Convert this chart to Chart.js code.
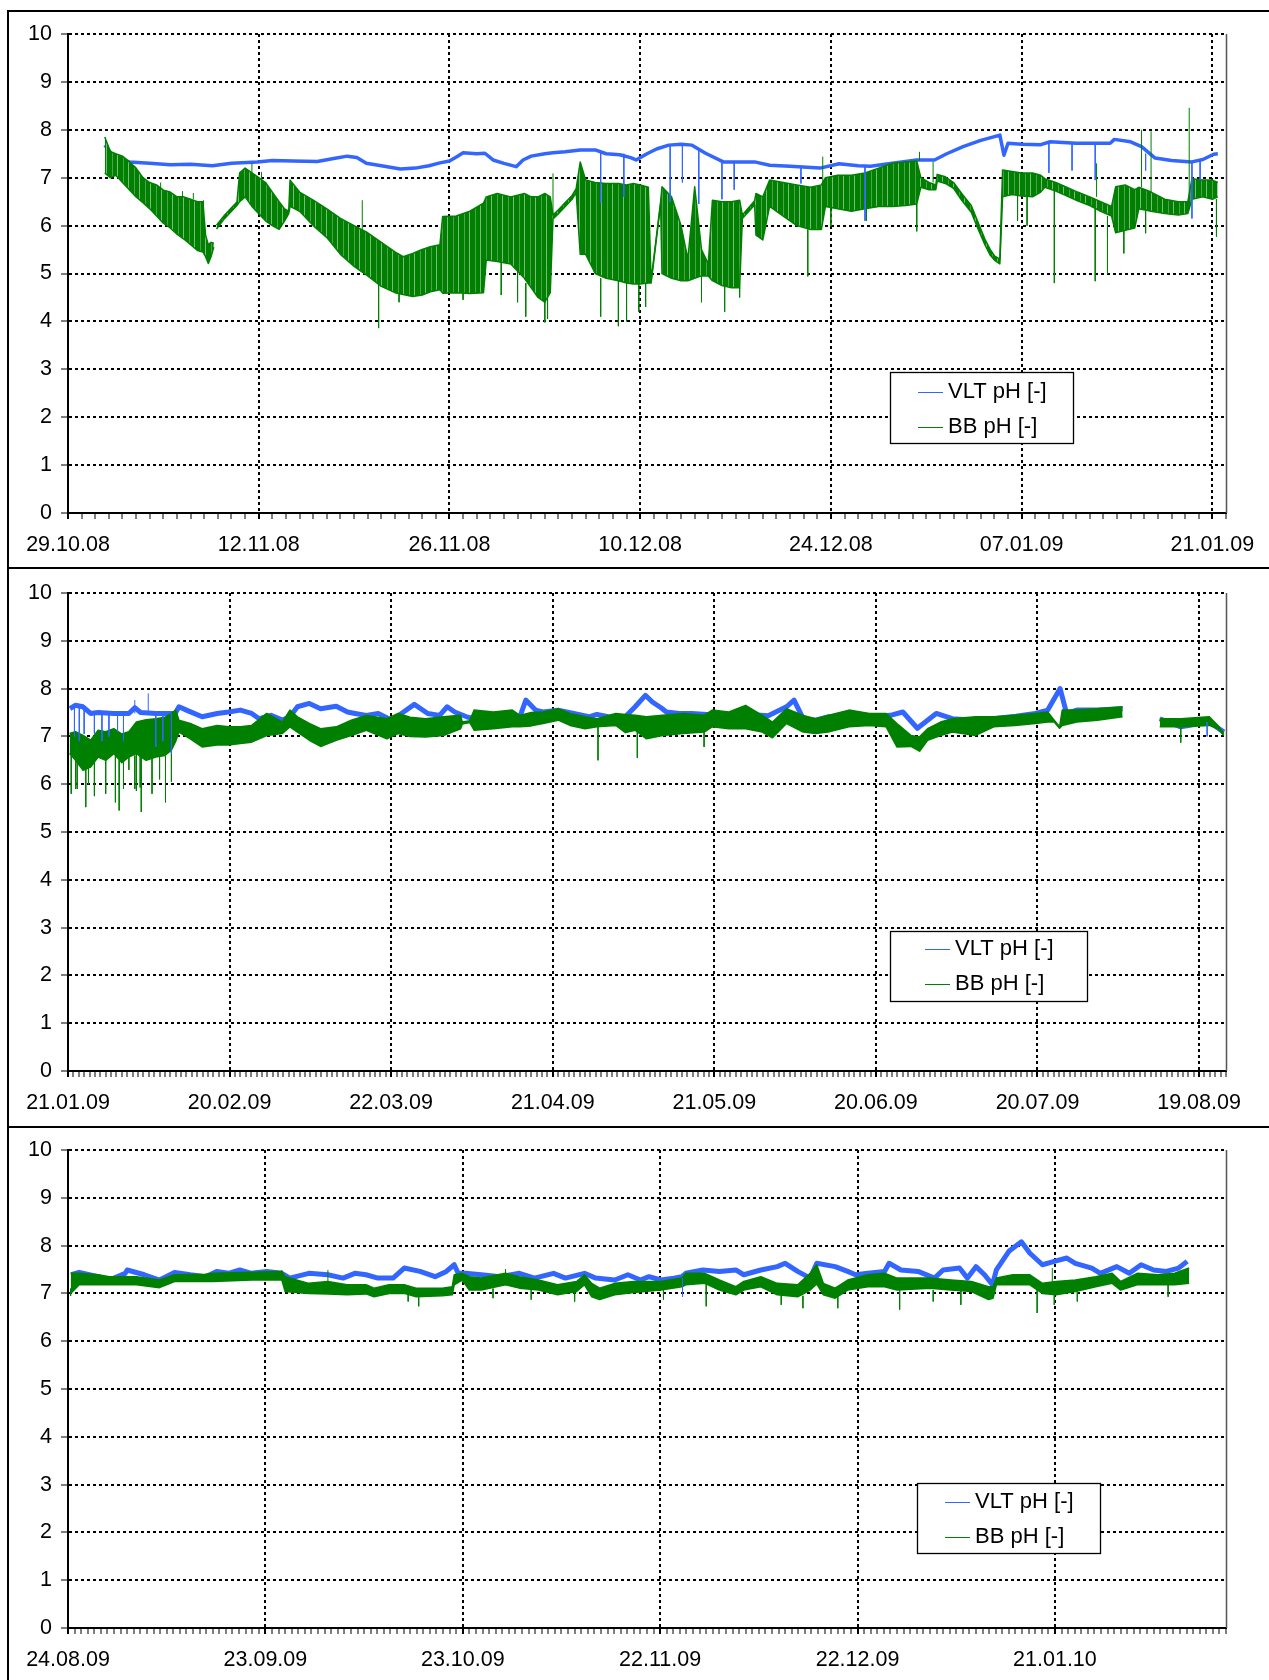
<!DOCTYPE html>
<html>
<head>
<meta charset="utf-8">
<title>pH VLT / BB</title>
<script src="https://cdn.jsdelivr.net/npm/chart.js@4.4.1/dist/chart.umd.min.js"></script>
<style>
  html, body { margin: 0; padding: 0; background: #fff; }
  #page { position: relative; width: 1269px; height: 1680px; overflow: hidden; }
  canvas { position: absolute; left: 0; }
  .rule { position: absolute; background: #000; }
</style>
</head>
<body>
<div id="page">
  <canvas id="c1" width="1269" height="567" style="top:0"></canvas>
  <canvas id="c2" width="1269" height="557" style="top:569px"></canvas>
  <canvas id="c3" width="1269" height="552" style="top:1128px"></canvas>
  <div class="rule" style="left:7px;top:10px;width:2px;height:1670px"></div>
  <div class="rule" style="left:7px;top:10px;width:1262px;height:2px"></div>
  <div class="rule" style="left:7px;top:567px;width:1262px;height:2px"></div>
  <div class="rule" style="left:7px;top:1126px;width:1262px;height:2px"></div>
</div>
<script>
const seriesNames = ['VLT pH [-]', 'BB pH [-]'];
const vltColor = '#3366ff';
const bbColor = '#008000';

// x values are days since the first tick of each panel
// BB rows: [day, upper, lower]; spikes: [day, from, to]

// 29.10.08 - 22.01.09
const p1Ticks = ['29.10.08', '12.11.08', '26.11.08', '10.12.08', '24.12.08', '07.01.09', '21.01.09'];
const p1Vlt = [
  [2.7,7.68],[3.2,7.5],[4.0,7.38],[4.5,7.33],[6.0,7.3],[7.5,7.27],[9.0,7.28],[10.6,7.25],[12.0,7.3],[13.9,7.33],
  [15.0,7.36],[16.5,7.35],[18.3,7.34],[19.5,7.4],[20.5,7.45],[21.2,7.42],[21.9,7.3],[23.0,7.25],[24.4,7.18],[25.5,7.2],
  [26.5,7.25],[27.3,7.31],[28.0,7.35],[28.6,7.45],[29.0,7.52],[30.0,7.5],[30.6,7.51],[31.2,7.37],[32.0,7.3],[32.9,7.23],
  [33.4,7.37],[34.0,7.45],[35.0,7.5],[35.6,7.52],[36.5,7.54],[37.6,7.58],[38.7,7.58],[39.5,7.5],[40.5,7.48],[41.3,7.42],
  [41.7,7.37],[42.5,7.5],[43.2,7.6],[44.1,7.68],[45.0,7.7],[45.8,7.68],[46.8,7.51],[48.1,7.33],[49.0,7.33],[50.4,7.33],
  [51.5,7.26],[53.0,7.24],[55.2,7.2],[56.6,7.29],[58.0,7.25],[58.9,7.24],[60.5,7.3],[62.3,7.37],[63.6,7.37],[64.5,7.5],
  [65.7,7.65],[67.0,7.78],[68.4,7.89],[68.7,7.47],[69.0,7.72],[70.0,7.7],[71.4,7.69],[72.1,7.75],[74.0,7.72],[76.5,7.72],
  [76.8,7.8],[78.0,7.75],[78.8,7.65],[79.8,7.41],[81.0,7.36],[82.5,7.33],[83.3,7.38],[84.1,7.49],[84.4,7.5]
];
const p1VltSpikes = [
  [39.1,7.55,6.47],[40.8,7.5,6.6],[44.2,7.68,6.5],[45.1,7.7,6.9],[46.3,7.6,6.45],[48.0,7.35,6.55],[48.9,7.33,6.75],
  [53.8,7.24,6.88],[58.5,7.25,6.1],[72.0,7.72,7.1],[73.7,7.72,7.15],[75.4,7.72,6.95],[79.1,7.5,7.15],[82.5,7.33,6.15],
  [83.1,7.36,6.95]
];
const p1Bb = [
  [2.7,7.85,7.1],[3.1,7.55,7.0],[3.5,7.5,7.05],[4.0,7.45,6.9],[4.5,7.33,6.75],[5.0,7.2,6.6],[5.5,7.0,6.48],[6.0,6.9,6.35],
  [6.5,6.85,6.2],[7.0,6.74,6.05],[7.5,6.7,5.95],[8.0,6.6,5.82],[8.5,6.6,5.72],[9.0,6.55,5.6],[9.5,6.5,5.48],[9.9,6.5,5.45],
  [10.1,5.8,5.35],[10.3,5.6,5.21],[10.5,5.65,5.35],[10.7,5.63,5.55],[10.8,null,null],
  [10.9,6.01,5.93],[11.5,6.22,6.15],[12.0,6.37,6.3],[12.4,6.49,6.42],
  [12.6,7.1,6.5],[13.0,7.2,6.6],[13.5,7.1,6.4],[14.0,7.0,6.25],[14.5,6.9,6.1],[15.0,6.7,6.0],[15.5,6.5,5.92],[15.9,6.35,6.1],
  [16.2,6.3,6.25],[16.3,6.95,6.4],[17.0,6.7,6.3],[18.0,6.53,6.0],[19.0,6.35,5.75],[20.0,6.15,5.4],[21.0,6.0,5.15],
  [22.0,5.85,4.95],[23.0,5.65,4.73],[24.0,5.45,4.6],[24.6,5.35,4.56],[25.3,5.42,4.52],[26.0,5.5,4.55],[26.6,5.56,4.62],
  [27.3,5.6,4.66],[27.5,6.19,4.59],[28.5,6.2,4.6],[29.5,6.3,4.58],[30.5,6.47,4.6],[30.7,6.6,5.28],[31.5,6.67,5.25],
  [32.5,6.6,5.2],[33.5,6.67,4.9],[34.0,6.6,4.7],[34.5,6.6,4.5],[35.0,6.67,4.4],[35.4,6.6,4.6],
  [35.6,6.22,6.14],[36.0,6.33,6.25],[36.5,6.48,6.4],[37.0,6.63,6.55],[37.3,6.77,6.69],
  [37.6,7.33,5.4],[38.0,6.95,5.4],[38.7,6.9,5.0],[39.5,6.88,4.9],[40.4,6.88,4.85],[41.0,6.85,4.8],[41.5,6.88,4.78],
  [42.0,6.85,4.78],[42.6,6.8,4.8],[42.8,4.85,4.8],[43.5,6.5,6.45],[43.6,6.81,5.0],[44.3,6.6,4.9],[45.0,6.0,4.85],
  [45.5,5.3,4.85],[46.0,6.81,4.9],[46.5,5.5,4.95],[47.0,5.2,4.95],[47.3,6.53,4.85],[48.0,6.5,4.75],[48.7,6.5,4.7],
  [49.3,6.53,4.7],[49.5,6.22,6.15],[50.4,6.52,6.43],[50.5,6.67,5.8],[51.0,6.6,5.7],[51.5,6.95,6.4],[52.5,6.9,6.2],
  [53.5,6.85,6.0],[54.5,6.8,5.92],[55.3,6.85,5.92],[55.6,7.0,6.4],[56.5,7.05,6.35],[57.5,7.05,6.3],[58.5,7.1,6.35],
  [59.5,7.2,6.4],[60.5,7.3,6.4],[61.5,7.33,6.42],[62.3,7.35,6.45],[62.6,7.0,6.8],[63.2,6.9,6.75],[63.7,6.85,6.75],
  [63.8,7.07,6.93],[64.4,7.02,6.88],[65.0,6.9,6.78],[65.6,6.67,6.53],[66.3,6.42,6.28],[66.8,6.07,5.93],[67.3,5.72,5.6],
  [67.7,5.5,5.38],[68.0,5.37,5.28],[68.4,5.3,5.2],[68.6,7.16,6.6],[69.3,7.13,6.65],[70.0,7.1,6.62],[70.8,7.1,6.6],
  [71.4,7.05,6.7],[71.7,6.98,6.8],[72.5,6.9,6.72],[73.3,6.8,6.62],[74.1,6.7,6.52],[75.0,6.6,6.42],[75.8,6.5,6.3],
  [76.6,6.4,6.2],[76.9,6.81,5.85],[77.6,6.85,5.9],[78.3,6.75,5.95],[78.6,6.8,6.35],[79.5,6.7,6.3],[80.5,6.55,6.25],
  [81.5,6.5,6.22],[82.2,6.5,6.25],[82.5,6.98,6.55],[83.3,6.95,6.6],[84.0,6.95,6.55],[84.4,6.9,6.6]
];
const p1BbSpikes = [
  [6.8,6.75,6.9],[8.4,6.6,6.72],[9.2,6.55,6.68],[9.95,6.0,6.53],[13.5,6.8,7.3],[14.2,6.9,7.12],[21.6,5.8,6.53],
  [22.8,4.8,3.86],[24.3,4.58,4.4],[29.0,4.6,4.45],[31.8,5.25,4.55],[33.0,5.2,4.4],[33.6,4.8,4.1],
  [35.0,4.5,3.98],[35.2,4.5,4.05],[35.6,6.2,7.09],[39.1,4.9,4.1],[40.4,4.85,3.9],[41.0,4.8,4.0],[41.9,4.8,4.2],
  [42.4,4.8,4.3],[46.5,4.95,4.4],[48.2,4.75,4.2],[49.3,4.7,4.5],[54.3,5.92,4.94],[55.4,6.85,7.44],[56.0,6.4,5.98],
  [58.6,6.35,6.1],[62.3,6.45,5.88],[62.5,7.35,7.54],[63.5,6.9,7.33],[69.7,6.62,6.1],[70.4,6.62,6.0],[72.4,6.72,4.8],
  [75.4,6.42,4.84],[75.5,6.6,7.3],[76.3,6.2,5.0],[77.5,5.9,5.42],[78.8,6.8,8.0],[79.1,6.3,5.84],[79.5,6.7,7.97],
  [82.3,6.5,8.46],[84.3,6.55,5.77]
];

// 21.01.09 - 24.08.09
const p2Ticks = ['21.01.09', '20.02.09', '22.03.09', '21.04.09', '21.05.09', '20.06.09', '20.07.09', '19.08.09'];
const p2Vlt = [
  [0.36,7.58],[1.36,7.65],[2.78,7.62],[4.2,7.48],[5.6,7.5],[8.5,7.48],[11.3,7.48],[12.4,7.6],[13.5,7.5],[16.3,7.48],
  [19.9,7.48],[20.6,7.62],[22.0,7.55],[24.9,7.41],[27.7,7.48],[29.8,7.51],[32.0,7.55],[34.1,7.48],[35.5,7.37],[37.7,7.44],
  [39.8,7.34],[41.2,7.41],[42.6,7.62],[44.8,7.69],[46.9,7.58],[49.8,7.63],[51.9,7.51],[53.3,7.48],[55.4,7.44],[57.6,7.48],
  [60.1,7.34],[61.9,7.48],[64.3,7.67],[66.8,7.48],[69.0,7.44],[70.4,7.62],[71.8,7.51],[74.0,7.41],[75.4,7.37],[79.0,7.34],
  [81.8,7.3],[83.9,7.41],[85.0,7.76],[86.8,7.55],[88.2,7.51],[91.0,7.55],[93.9,7.48],[96.7,7.41],[98.2,7.46],[100.3,7.41],
  [103.1,7.37],[105.3,7.62],[107.2,7.86],[108.5,7.72],[110.1,7.6],[111.1,7.51],[113.5,7.48],[115.8,7.48],[120.0,7.45],
  [125.0,7.47],[130.0,7.43],[133.4,7.62],[134.8,7.76],[136.5,7.37],[138.8,7.34],[141.1,7.41],[145.0,7.4],[148.8,7.41],
  [152.7,7.44],[155.0,7.51],[157.7,7.17],[161.2,7.48],[164.2,7.37],[168.1,7.34],[171.9,7.37],[176.0,7.42],[179.6,7.48],
  [181.9,7.55],[184.2,8.0],[185.4,7.48],[187.3,7.55],[191.0,7.55],[195.8,7.58],[196.0,null],[202.7,7.37],[206.6,7.2],
  [211.9,7.3],[214.6,7.09]
];
const p2VltSpikes = [
  [1.2,7.62,7.0],[2.1,7.62,6.9],[3.0,7.6,7.05],[4.9,7.48,7.06],[6.3,7.5,6.9],[7.6,7.48,7.0],[9.2,7.48,7.1],
  [10.3,7.48,6.9],[12.4,7.48,7.76],[14.9,7.48,7.9],[16.3,7.48,6.78],[17.6,7.48,6.9],[19.2,7.48,6.64],[211.5,7.3,7.0]
];
const p2Bb = [
  [0.3,7.06,6.64],[1.4,7.1,6.5],[2.8,7.02,6.29],[4.2,6.92,6.36],[5.6,7.13,6.57],[7.0,7.1,6.5],[8.5,7.16,6.64],
  [10.0,7.05,6.45],[11.3,7.1,6.57],[12.7,7.3,6.64],[14.5,7.35,6.5],[16.3,7.37,6.57],[18.0,7.4,6.6],[19.2,7.48,6.71],
  [20.0,7.55,6.9],[20.6,7.34,7.09],[22.7,7.27,6.95],[24.9,7.16,6.78],[27.7,7.23,6.82],[29.8,7.2,6.82],[32.0,7.2,6.85],
  [34.1,7.23,6.88],[36.9,7.48,7.02],[39.8,7.3,7.06],[41.2,7.55,7.2],[42.6,7.41,7.09],[44.8,7.27,6.92],[46.9,7.16,6.79],
  [49.8,7.2,6.92],[52.6,7.34,7.02],[55.4,7.44,7.13],[59.2,7.37,6.95],[61.3,7.48,7.06],[63.5,7.4,7.0],[66.4,7.37,6.99],
  [69.7,7.41,7.02],[72.9,7.44,7.16],[73.2,7.3,7.26],[74.6,7.33,7.29],[75.4,7.55,7.13],[79.0,7.51,7.16],[82.5,7.55,7.2],
  [83.9,7.44,7.2],[86.0,7.5,7.22],[88.2,7.51,7.27],[91.0,7.58,7.34],[93.2,7.48,7.23],[96.0,7.41,7.16],[98.2,7.37,7.2],
  [101.7,7.48,7.23],[103.5,7.46,7.08],[105.3,7.44,7.13],[107.4,7.41,6.95],[110.4,7.44,7.02],[114.2,7.48,7.06],
  [118.1,7.44,7.09],[119.6,7.55,7.2],[122.7,7.51,7.16],[125.8,7.65,7.16],[128.9,7.44,7.09],[130.8,7.3,6.97],
  [133.4,7.58,7.27],[136.5,7.44,7.09],[138.8,7.37,7.06],[141.1,7.44,7.09],[145.0,7.55,7.2],[148.8,7.48,7.23],
  [151.9,7.48,7.2],[153.9,7.27,6.78],[156.5,7.02,6.79],[158.1,6.99,6.69],[159.6,7.16,6.92],[162.0,7.3,7.02],
  [164.2,7.37,7.09],[168.5,7.41,7.02],[171.9,7.41,7.2],[175.8,7.44,7.23],[179.6,7.48,7.27],[181.9,7.51,7.3],
  [183.1,7.34,7.3],[184.1,7.2,7.17],[184.6,7.55,7.23],[187.3,7.55,7.3],[191.1,7.58,7.34],[195.8,7.62,7.41],
  [196.0,null,null],[202.7,7.37,7.2],[206.6,7.37,7.2],[211.9,7.41,7.23],[213.5,7.23,7.16],[214.6,7.06,7.02]
];
const p2BbSpikes = [
  [0.6,6.6,5.8],[1.4,6.5,5.9],[1.7,6.5,5.9],[3.3,6.35,5.52],[3.8,6.4,6.0],[4.9,6.45,5.75],[7.0,6.5,5.8],[8.8,6.6,5.62],
  [9.5,6.5,5.45],[10.3,6.5,5.9],[11.3,6.57,6.3],[12.4,6.6,5.9],[12.7,6.64,5.86],[13.4,6.6,5.93],[13.6,6.6,5.42],
  [15.6,6.55,5.8],[17.0,6.6,6.1],[18.1,6.6,5.62],[19.2,6.7,6.05],[98.4,7.2,6.5],[105.7,7.1,6.55],[118.1,7.09,6.78],
  [206.6,7.2,6.87]
];

// 24.08.09 - 15.02.10
const p3Ticks = ['24.08.09', '23.09.09', '23.10.09', '22.11.09', '22.12.09', '21.01.10'];
const p3Vlt = [
  [0.5,7.39],[1.7,7.44],[4.6,7.35],[6.3,7.28],[8.7,7.42],[9.0,7.49],[11.6,7.39],[13.9,7.28],[16.2,7.44],[18.6,7.39],
  [20.9,7.35],[22.6,7.46],[24.4,7.42],[26.1,7.49],[27.9,7.42],[30.2,7.46],[32.5,7.42],[33.7,7.32],[36.6,7.42],[39.5,7.39],
  [41.8,7.32],[43.6,7.42],[45.3,7.39],[47.1,7.32],[49.4,7.32],[51.1,7.53],[53.5,7.46],[55.8,7.35],[57.5,7.46],[58.7,7.6],
  [59.3,7.42],[60.4,7.42],[62.8,7.39],[65.7,7.35],[68.6,7.42],[70.9,7.32],[73.8,7.42],[75.6,7.32],[78.5,7.42],[80.2,7.32],
  [83.1,7.28],[85.1,7.39],[87.0,7.28],[88.3,7.35],[90.1,7.28],[92.1,7.32],[93.3,7.35],[93.9,7.42],[96.5,7.49],[99.0,7.46],
  [101.5,7.49],[102.7,7.39],[105.3,7.49],[107.8,7.56],[109.0,7.63],[110.9,7.46],[112.8,7.32],[113.8,7.63],[116.6,7.56],
  [118.5,7.46],[119.7,7.39],[121.6,7.42],[124.1,7.46],[124.8,7.63],[126.6,7.49],[129.2,7.46],[131.7,7.32],[133.0,7.49],
  [135.5,7.53],[136.7,7.32],[138.0,7.56],[139.3,7.39],[140.5,7.18],[141.1,7.49],[143.0,7.88],[144.9,8.08],[146.2,7.84],
  [148.1,7.6],[149.9,7.67],[151.8,7.74],[153.1,7.63],[155.6,7.53],[156.9,7.42],[159.4,7.56],[161.3,7.42],[163.1,7.6],
  [165.0,7.49],[166.9,7.46],[168.8,7.53],[170.1,7.67]
];
const p3VltSpikes = [[93.4,7.32,6.93]];
const p3Bb = [
  [0.4,7.42,7.0],[1.7,7.42,7.18],[4.6,7.39,7.18],[6.3,7.35,7.18],[10.4,7.35,7.18],[13.9,7.28,7.12],[16.2,7.39,7.25],
  [20.9,7.4,7.25],[22.1,7.42,7.25],[27.9,7.44,7.28],[32.5,7.46,7.28],[33.0,7.35,7.04],[36.6,7.21,7.0],[39.5,7.25,6.99],
  [42.4,7.18,6.97],[45.3,7.18,6.99],[46.5,7.11,6.93],[48.8,7.18,7.0],[51.1,7.18,7.0],[52.9,7.11,6.93],[56.9,7.11,6.95],
  [58.4,7.14,6.97],[58.7,7.39,7.18],[59.9,7.42,7.28],[61.0,7.35,7.07],[62.8,7.32,7.07],[66.5,7.42,7.18],[68.6,7.35,7.11],
  [71.5,7.28,7.07],[74.4,7.18,6.97],[77.3,7.25,7.04],[78.5,7.39,7.18],[79.6,7.21,6.93],[80.8,7.11,6.87],[83.1,7.21,6.97],
  [86.0,7.25,7.02],[90.1,7.25,7.07],[93.3,7.32,7.14],[93.9,7.42,7.18],[96.8,7.42,7.21],[99.0,7.28,7.07],[101.5,7.14,6.97],
  [102.7,7.25,7.07],[105.3,7.35,7.14],[107.8,7.21,6.97],[110.9,7.18,6.93],[112.8,7.42,7.07],[113.8,7.6,7.2],
  [114.8,7.21,6.97],[116.6,7.11,6.9],[118.5,7.28,7.07],[121.6,7.39,7.14],[124.1,7.42,7.14],[126.0,7.32,7.07],
  [131.0,7.32,7.11],[134.2,7.28,7.07],[137.3,7.25,7.04],[139.9,7.14,6.87],[140.6,7.14,6.9],[141.1,7.32,7.18],
  [143.6,7.39,7.18],[146.2,7.39,7.18],[148.1,7.21,7.0],[150.2,7.25,6.97],[153.1,7.28,7.04],[156.2,7.35,7.14],
  [158.7,7.42,7.21],[160.0,7.25,7.07],[162.5,7.42,7.18],[165.7,7.39,7.18],[168.2,7.42,7.18],[170.4,7.53,7.21]
];
const p3BbSpikes = [
  [0.4,7.1,6.95],[32.5,7.3,7.49],[39.5,7.1,7.49],[51.7,7.0,6.83],[53.3,6.97,6.73],[64.6,7.1,6.9],[66.5,7.3,7.51],
  [70.4,7.07,6.87],[77.0,7.04,6.83],[90.5,7.07,6.87],[97.0,7.2,6.73],[108.4,7.0,6.76],[111.7,6.95,6.69],
  [117.0,6.95,6.69],[126.4,7.07,6.66],[131.5,7.07,6.83],[135.7,7.07,6.76],[147.3,7.1,6.59],[149.6,7.1,7.53],
  [149.9,7.0,6.76],[153.4,7.04,6.83],[167.2,7.18,6.93]
];

const fontFamily = 'Arial, "Liberation Sans", Helvetica, sans-serif';
const tickFont = { family: fontFamily, size: 21.5 };

function pts(rows, col) {
  return rows.map(r => ({ x: r[0], y: r[col] }));
}

// each spike becomes its own short vertical segment
function spikePts(rows) {
  const out = [];
  rows.forEach(([d, a, b]) => {
    out.push({ x: d, y: a }, { x: d, y: b }, { x: d, y: null });
  });
  return out;
}

// streaky fill for the densely sampled BB band (many overlapping strokes)
function streakFill() {
  const c = document.createElement('canvas');
  c.width = 11;
  c.height = 1;
  const g = c.getContext('2d');
  g.fillStyle = bbColor;
  g.fillRect(0, 0, 11, 1);
  g.fillStyle = '#4f9f4f';
  g.fillRect(2, 0, 1, 1);
  g.fillStyle = '#7dba7d';
  g.fillRect(7, 0, 1, 1);
  return g.createPattern(c, 'repeat');
}

// right edge of the plot + boxed legend
function framePlugin(box) {
  return {
    id: 'phFrame',
    afterDraw(chart) {
      const { ctx, chartArea: a } = chart;
      ctx.save();
      ctx.strokeStyle = '#555';
      ctx.lineWidth = 1.5;
      ctx.beginPath();
      ctx.moveTo(a.right + 0.5, a.top);
      ctx.lineTo(a.right + 0.5, a.bottom);
      ctx.stroke();

      ctx.fillStyle = '#fff';
      ctx.fillRect(box.x, box.y, box.w, box.h);
      ctx.strokeStyle = '#000';
      ctx.lineWidth = 1.3;
      ctx.strokeRect(box.x + 0.5, box.y + 0.5, box.w, box.h);
      ctx.font = '22px ' + fontFamily;
      ctx.textBaseline = 'middle';
      [[seriesNames[0], vltColor], [seriesNames[1], bbColor]].forEach(([name, col], i) => {
        const y = box.rows[i];
        ctx.strokeStyle = col;
        ctx.lineWidth = 1;
        ctx.beginPath();
        ctx.moveTo(box.lineX, y + 0.5);
        ctx.lineTo(box.lineX + 25, y + 0.5);
        ctx.stroke();
        ctx.fillStyle = '#000';
        ctx.fillText(name, box.textX, y);
      });
      ctx.restore();
    }
  };
}

function makeChart(id, p) {
  const isMajor = c => c.tick && Math.round(c.tick.value) % p.major === 0;
  return new Chart(document.getElementById(id), {
    type: 'line',
    data: {
      datasets: [
        { label: seriesNames[0], data: spikePts(p.vltSpikes), borderColor: vltColor, borderWidth: 1 },
        { label: seriesNames[1], data: pts(p.bb, 1), borderColor: bbColor, borderWidth: 1.5 },
        { label: seriesNames[1], data: pts(p.bb, 2), borderColor: bbColor, borderWidth: 1.5,
          fill: '-1', backgroundColor: p.bandFill },
        { label: seriesNames[1], data: spikePts(p.bbSpikes), borderColor: bbColor, borderWidth: 1 },
        { label: seriesNames[0], data: pts(p.vlt, 1), borderColor: vltColor, borderWidth: p.vltWidth }
      ]
    },
    options: {
      responsive: false,
      animation: false,
      devicePixelRatio: 1,
      events: [],
      layout: { padding: { top: p.padTop, right: 43, left: 0, bottom: 0 } },
      elements: {
        point: { radius: 0 },
        line: { tension: 0, borderJoinStyle: 'round', borderCapStyle: 'butt' }
      },
      plugins: { legend: { display: false }, tooltip: { enabled: false } },
      scales: {
        x: {
          type: 'linear', min: 0, max: p.max,
          afterFit: s => { s.height = p.axisH; },
          ticks: {
            stepSize: 1, autoSkip: false, maxRotation: 0, minRotation: 0, includeBounds: false,
            padding: 13, color: '#000', font: tickFont,
            callback: v => {
              const d = Math.round(v);
              return d % p.major === 0 ? (p.ticks[d / p.major] || '') : '';
            }
          },
          grid: {
            color: c => (isMajor(c) ? '#000' : 'rgba(0,0,0,0)'),
            lineWidth: 2, tickLength: 6, tickColor: '#000',
            tickWidth: c => (isMajor(c) ? 2 : 1)
          },
          border: { color: '#000', width: 2, dash: [3, 3] }
        },
        y: {
          min: 0, max: 10,
          afterFit: s => { s.width = 68; },
          ticks: { stepSize: 1, padding: 9, color: '#000', font: tickFont },
          grid: { color: '#000', lineWidth: 2, tickLength: 7, tickColor: '#000', tickWidth: 1 },
          border: { color: '#000', width: 2, dash: [3, 3] }
        }
      }
    },
    plugins: [framePlugin(p.legend)]
  });
}

makeChart('c1', {
  max: 85, major: 14, ticks: p1Ticks, padTop: 34, axisH: 54, vltWidth: 3.5, bandFill: streakFill(),
  vlt: p1Vlt, vltSpikes: p1VltSpikes, bb: p1Bb, bbSpikes: p1BbSpikes,
  legend: { x: 890, y: 372, w: 183, h: 71, lineX: 918, textX: 948, rows: [392, 427] }
});
makeChart('c2', {
  max: 215, major: 30, ticks: p2Ticks, padTop: 24, axisH: 55, vltWidth: 5, bandFill: bbColor,
  vlt: p2Vlt, vltSpikes: p2VltSpikes, bb: p2Bb, bbSpikes: p2BbSpikes,
  legend: { x: 890, y: 362, w: 197, h: 70, lineX: 925, textX: 955, rows: [380, 415] }
});
makeChart('c3', {
  max: 176, major: 30, ticks: p3Ticks, padTop: 22, axisH: 52, vltWidth: 5, bandFill: bbColor,
  vlt: p3Vlt, vltSpikes: p3VltSpikes, bb: p3Bb, bbSpikes: p3BbSpikes,
  legend: { x: 917, y: 355, w: 183, h: 70, lineX: 945, textX: 975, rows: [374, 409] }
});
</script>
</body>
</html>
